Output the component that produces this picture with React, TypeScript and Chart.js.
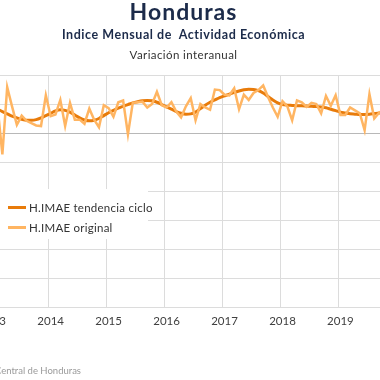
import React, { useEffect, useRef } from "react";
import { Chart, registerables } from "chart.js";

Chart.register(...registerables);

const startYear = 2013;
const yearLabels = ["2013", "2014", "2015", "2016", "2017", "2018", "2019"];

// Monthly year-on-year variation (%), Jan 2013 – Dec 2019
const originalValues = [
  3.0, 4.5, -3.7, 7.9, 4.6, 1.4, 3.0, 2.1, 1.7, 1.3, 1.2, 6.5,
  2.9, 3.2, 5.7, 1.2, 5.2, 2.3, 2.3, 1.6, 4.2, 2.3, 1.0, 4.8,
  4.3, 2.8, 5.3, 5.6, -0.2, 5.2, 5.3, 5.4, 4.4, 5.0, 7.1, 4.8,
  4.4, 5.3, 3.7, 2.7, 4.6, 6.0, 2.2, 5.0, 4.4, 4.0, 7.5, 7.4,
  6.6, 6.5, 7.7, 4.1, 6.6, 5.7, 6.9, 7.4, 8.2, 6.2, 4.4, 2.8,
  5.5, 4.6, 2.2, 5.6, 5.3, 4.5, 5.2, 5.0, 3.4, 6.4, 4.7, 6.5,
  3.1, 3.1, 4.4, 3.9, 3.4, 0.5, 6.7, 2.5, 3.5, 4.0, 3.8, 3.0,
];

const trendValues = [
  4.4, 4.1, 3.7, 3.3, 2.9, 2.6, 2.35, 2.2, 2.2, 2.3, 2.6, 3.0,
  3.4, 3.8, 4.0, 3.9, 3.6, 3.1, 2.6, 2.25, 2.1, 2.2, 2.5, 3.0,
  3.5, 3.9, 4.3, 4.6, 4.9, 5.2, 5.4, 5.55, 5.6, 5.55, 5.3, 4.9,
  4.5, 4.1, 3.7, 3.4, 3.25, 3.3, 3.6, 4.2, 4.8, 5.3, 5.7, 6.1,
  6.4, 6.7, 7.0, 7.25, 7.45, 7.55, 7.5, 7.3, 6.9, 6.3, 5.7, 5.2,
  4.9, 4.8, 4.75, 4.7, 4.7, 4.65, 4.6, 4.55, 4.5, 4.35, 4.1, 3.85,
  3.6, 3.45, 3.3, 3.25, 3.2, 3.2, 3.25, 3.35, 3.45, 3.5, 3.5, 3.4,
];

const TREND_COLOR = "#E87B0A";
const ORIG_COLOR = "#FFB562";
const GRID_COLOR = "#dcdcdc";
const ZERO_COLOR = "#b8b8b8";
const FONT = "Lato, 'Open Sans', sans-serif";

const toPoints = (vals: number[]) =>
  vals.map((v, i) => ({ x: startYear + (i + 0.5) / 12, y: v }));

export default function App() {
  const ref = useRef<HTMLCanvasElement | null>(null);

  useEffect(() => {
    if (!ref.current) return;
    const chart = new Chart(ref.current, {
      type: "line",
      data: {
        datasets: [
          {
            label: "H.IMAE tendencia ciclo",
            data: toPoints(trendValues),
            borderColor: TREND_COLOR,
            backgroundColor: TREND_COLOR,
            borderWidth: 3,
            pointRadius: 0,
            tension: 0.4,
            cubicInterpolationMode: "monotone",
            order: 1,
          },
          {
            label: "H.IMAE original",
            data: toPoints(originalValues),
            borderColor: ORIG_COLOR,
            backgroundColor: ORIG_COLOR,
            borderWidth: 2.5,
            pointRadius: 0,
            tension: 0,
            order: 0,
          },
        ],
      },
      options: {
        animation: false,
        responsive: false,
        maintainAspectRatio: false,
        layout: { padding: { top: 75, right: 14, bottom: 0, left: 0 } },
        plugins: { legend: { display: false }, tooltip: { enabled: false } },
        scales: {
          x: {
            type: "linear",
            min: 2013,
            max: 2020,
            afterFit: (s: any) => {
              s.height = 73;
            },
            grid: { color: GRID_COLOR, drawTicks: false },
            border: { color: GRID_COLOR },
            ticks: {
              stepSize: 1,
              autoSkip: false,
              maxRotation: 0,
              labelOffset: 2.4,
              padding: 7,
              color: "#404040",
              font: { family: FONT, size: 11.5 },
              callback: (v: any) => {
                const idx = yearLabels.indexOf(String(v));
                return idx >= 0 ? yearLabels[idx] : "";
              },
            },
          },
          y: {
            min: -30,
            max: 10,
            afterFit: (s: any) => {
              s.width = 60.3;
            },
            ticks: { display: false, stepSize: 5 },
            grid: {
              drawTicks: false,
              color: (c: any) => (c.tick && c.tick.value === 0 ? ZERO_COLOR : GRID_COLOR),
            },
            border: { display: false },
          },
        },
      },
    });
    return () => chart.destroy();
  }, []);

  return (
    <div
      style={{
        position: "fixed",
        left: 0,
        top: 0,
        width: 380,
        height: 380,
        overflow: "hidden",
        background: "#fff",
        fontFamily: FONT,
      }}
    >
      <canvas
        ref={ref}
        width={480}
        height={380}
        style={{ position: "absolute", left: -70, top: 0, width: 480, height: 380 }}
      />
      <div
        style={{
          position: "absolute",
          left: 0,
          width: 367,
          top: -3,
          textAlign: "center",
          fontSize: 23,
          fontWeight: 700,
          letterSpacing: 1,
          color: "#1c2b4a",
          whiteSpace: "nowrap",
        }}
      >
        Honduras
      </div>
      <div
        style={{
          position: "absolute",
          left: 0,
          width: 367,
          top: 27,
          textAlign: "center",
          fontSize: 12.5,
          fontWeight: 700,
          letterSpacing: 0.55,
          color: "#1c2b4a",
          whiteSpace: "pre",
        }}
      >
        {"Indice Mensual de  Actividad Económica"}
      </div>
      <div
        style={{
          position: "absolute",
          left: 0,
          width: 367,
          top: 48,
          textAlign: "center",
          fontSize: 11.5,
          letterSpacing: 0.4,
          color: "#333",
          whiteSpace: "nowrap",
        }}
      >
        Variación interanual
      </div>
      <div
        style={{
          position: "absolute",
          left: -20,
          top: 189,
          width: 168,
          height: 50,
          background: "#fff",
        }}
      >
        {[
          { label: "H.IMAE tendencia ciclo", color: TREND_COLOR, top: 10 },
          { label: "H.IMAE original", color: ORIG_COLOR, top: 30 },
        ].map((it) => (
          <div
            key={it.label}
            style={{
              position: "absolute",
              left: 28,
              top: it.top,
              height: 16,
              display: "flex",
              alignItems: "center",
              whiteSpace: "nowrap",
              fontSize: 11.5,
              letterSpacing: 0.25,
              color: "#333",
            }}
          >
            <span
              style={{
                display: "inline-block",
                width: 18,
                height: 3,
                background: it.color,
                marginRight: 3,
              }}
            />
            {it.label}
          </div>
        ))}
      </div>
      <div
        style={{
          position: "absolute",
          right: 299,
          top: 365,
          fontSize: 9.5,
          color: "#9a9a9a",
          whiteSpace: "nowrap",
        }}
      >
        Fuente: Banco Central de Honduras
      </div>
    </div>
  );
}
